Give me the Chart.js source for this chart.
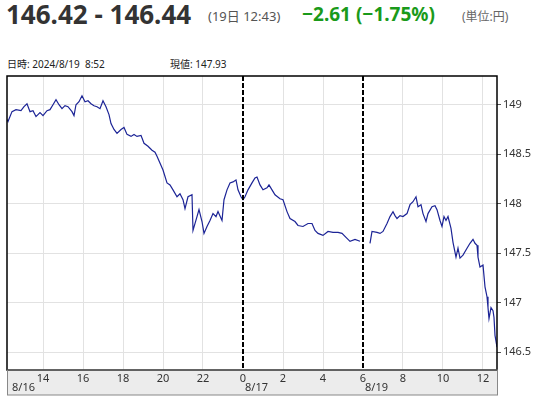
<!DOCTYPE html>
<html><head><meta charset="utf-8">
<script src="https://cdn.jsdelivr.net/npm/chart.js@4"></script>
<style>
body{margin:0;width:536px;height:400px;position:relative;background:#fff;font-family:"Noto Sans","Noto Sans CJK JP",sans-serif;overflow:hidden}
.t{position:absolute;white-space:nowrap}
#c{position:absolute;left:0;top:0}
</style></head><body>
<div class="t" style="left:6px;top:-4px;font-size:26px;font-weight:bold;color:#333">146.42 - 146.44</div>
<div class="t" style="left:208px;top:6px;font-size:13px;color:#555">(19日 12:43)</div>
<div class="t" style="left:302px;top:1px;font-size:19px;font-weight:bold;color:#1a9a1a">−2.61 (−1.75%)</div>
<div class="t" style="left:462px;top:7px;font-size:12px;color:#666">(単位:円)</div>
<div class="t" style="left:7px;top:56px;font-size:10px;color:#222">日時: 2024/8/19&nbsp; 8:52</div>
<div class="t" style="left:170px;top:56px;font-size:10px;color:#222">現値: 147.93</div>
<canvas id="c" width="536" height="400"></canvas>
<script>
// hour index: hours since 8/16 00:00, weekend gap compressed (8/19 6:00 = 30)
const hours1=[12.2,12.25,12.45,12.65,12.9,13.05,13.2,13.35,13.5,13.65,13.85,14.0,14.2,14.35,14.5,14.65,14.8,14.95,15.1,15.25,15.45,15.55,15.65,15.8,15.95,16.1,16.25,16.4,16.55,16.7,16.85,17.0,17.15,17.3,17.4,17.55,17.7,17.9,18.05,18.2,18.4,18.55,18.7,18.9,19.05,19.25,19.45,19.6,19.7,20.0,20.2,20.35,20.5,20.7,20.85,21.0,21.1,21.25,21.45,21.5,21.7,21.8,21.95,22.05,22.2,22.35,22.5,22.65,22.75,22.95,23.05,23.2,23.35,23.5,23.65,23.75,23.9,24.0,24.1,24.25,24.45,24.6,24.7,24.85,25.0,25.2,25.3,25.45,25.6,25.85,26.0,26.2,26.35,26.6,26.75,27.0,27.25,27.45,27.6,27.75,28.0,28.25,28.5,28.75,28.95,29.2,29.35,29.6,29.85];
const prices1=[148.85,148.83,148.93,148.95,148.94,148.98,149.01,148.93,148.94,148.88,148.92,148.89,148.94,148.95,149.0,149.05,149.0,148.96,148.99,148.98,148.93,148.89,149.0,149.03,149.09,149.03,149.04,149.01,148.99,148.98,148.96,149.04,148.98,148.9,148.81,148.75,148.71,148.75,148.77,148.7,148.68,148.7,148.68,148.69,148.61,148.58,148.54,148.52,148.48,148.34,148.21,148.19,148.14,148.07,148.1,148.04,147.95,148.07,148.09,147.73,147.87,147.94,147.82,147.7,147.77,147.83,147.9,147.87,147.92,147.83,148.04,148.14,148.21,148.22,148.24,148.14,148.07,148.04,148.07,148.14,148.21,148.26,148.27,148.19,148.14,148.16,148.19,148.14,148.09,148.05,148.04,147.92,147.85,147.82,147.78,147.77,147.8,147.8,147.73,147.7,147.68,147.72,147.71,147.71,147.7,147.65,147.62,147.64,147.62];
const hours2=[30.35,30.45,30.7,30.85,31.0,31.2,31.35,31.5,31.6,31.7,31.85,32.0,32.2,32.35,32.5,32.65,32.75,32.9,33.0,33.15,33.25,33.45,33.6,33.7,33.85,33.95,34.05,34.15,34.25,34.4,34.5,34.65,34.75,34.85,35.0,35.2,35.35,35.5,35.6,35.7,35.75,35.85,36.0,36.1,36.2,36.25,36.3,36.4,36.5,36.55,36.6,36.7];
const prices2=[147.6,147.72,147.71,147.7,147.72,147.8,147.87,147.92,147.88,147.85,147.88,147.87,147.9,147.99,148.02,148.07,147.97,147.99,147.9,147.82,147.9,147.97,147.98,147.94,147.83,147.77,147.87,147.83,147.87,147.75,147.61,147.46,147.55,147.45,147.48,147.55,147.6,147.64,147.6,147.58,147.46,147.36,147.38,147.16,147.06,146.95,146.84,146.95,146.92,146.85,146.67,146.55];
const xTicks=[14,16,18,20,22,24,26,28,30,32,34,36];
const yTicks=[146.5,147,147.5,148,148.5,149];
const sessionBreaks=[24,30];
const dateLabels=[{at:12.2,text:'8/16'},{at:24,text:'8/17'},{at:30,text:'8/19'}];

const pts=[];
hours1.forEach((h,i)=>pts.push({x:h,y:prices1[i]}));
pts.push({x:30.1,y:null});
hours2.forEach((h,i)=>pts.push({x:h,y:prices2[i]}));

const deco={id:'deco',
 beforeDraw(ch){const c=ch.ctx,a=ch.chartArea;c.save();c.fillStyle='#ececec';c.fillRect(a.left,a.bottom,a.right-a.left,25);c.restore();},
 afterDatasetsDraw(ch){const c=ch.ctx,a=ch.chartArea,xs=ch.scales.x;c.save();
  c.strokeStyle='#000';c.lineWidth=2;c.setLineDash([5,2]);
  sessionBreaks.forEach(v=>{const px=Math.round(xs.getPixelForValue(v));c.beginPath();c.moveTo(px,a.top);c.lineTo(px,a.bottom);c.stroke();});
  c.setLineDash([]);c.lineWidth=1.5;c.strokeRect(a.left,a.top,a.right-a.left,a.bottom-a.top);
  c.lineWidth=1;c.strokeStyle='#888';c.strokeRect(a.left+0.5,a.bottom,a.right-a.left,25);
  c.fillStyle='#333';c.font='11px "Noto Sans",sans-serif';c.textBaseline='top';c.textAlign='left';
  dateLabels.forEach(d=>{let px=xs.getPixelForValue(d.at);px+=(d.at>13)?2:5;c.fillText(d.text,px,a.bottom+12);});
  c.restore();}};

new Chart(document.getElementById('c'),{type:'line',
 data:{datasets:[{data:pts,borderColor:'#1c2496',borderWidth:1.2,pointRadius:0,tension:0,spanGaps:false}]},
 options:{responsive:false,animation:false,
  layout:{padding:{left:7,top:76,right:0,bottom:5}},
  plugins:{legend:{display:false},tooltip:{enabled:false}},
  scales:{
   x:{type:'linear',min:12.2,max:36.7,
    afterBuildTicks:s=>{s.ticks=xTicks.map(v=>({value:v}));},
    afterFit:s=>{s.height=25;},
    grid:{color:ctx=>sessionBreaks.includes(ctx.tick&&ctx.tick.value)?'rgba(0,0,0,0)':'#e2e2e2',drawTicks:false},
    border:{display:false},
    ticks:{padding:2,color:'#333',font:{size:11,family:'"Noto Sans",sans-serif'},maxRotation:0,autoSkip:false,
     callback:v=>String(v>=24?v-24:v)}},
   y:{position:'right',min:146.32,max:149.29,
    afterBuildTicks:s=>{s.ticks=yTicks.map(v=>({value:v}));},
    afterFit:s=>{s.width=39;},
    grid:{color:'#e2e2e2',tickLength:4,tickColor:'#555'},
    border:{display:false},
    ticks:{padding:2,color:'#333',font:{size:11,family:'"Noto Sans",sans-serif'},callback:v=>String(v)}}
  }},
 plugins:[deco]});
</script></body></html>
